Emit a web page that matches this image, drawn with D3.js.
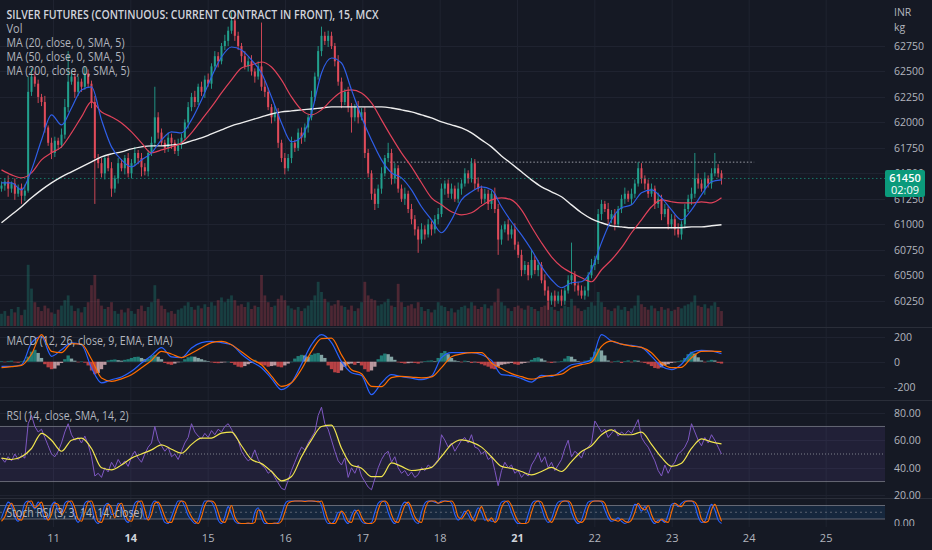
<!DOCTYPE html>
<html>
<head>
<meta charset="utf-8">
<script src="https://d3js.org/d3.v7.min.js"></script>
<style>
html, body { margin: 0; padding: 0; background: #151924; overflow: hidden; }
text { font-family: "Open Sans", "Noto Sans", sans-serif; }
</style>
</head>
<body>
<div id="chart"></div>
<script>
// ---- data (15 min silver, aggregated to ~3 bars per 10px) ----
const firstOpen = 61350
const closes = [
61380,61420,61350,61400,61300,61360,61280,61330,
62300,62450,62380,62250,62200,
61950,61800,61700,61820,61780,
61880,62150,62400,
62450,62300,62400,62350,62480,
62380,62200,61650,61600,61500,
61650,61550,61350,61450,61600,61550,61650,61500,
61600,61700,61650,61560,61520,
61700,61800,62050,61900,61800,
61750,61850,61800,61720,61780,61850,
62000,62150,62250,62200,62350,62300,
62420,62380,62550,62650,62600,62750,62800,62900,
63000,62850,62750,62650,62550,62600,62500,
62450,62550,62350,62300,62150,62050,62100,61800,61650,61550,61650,61800,
61750,61900,61850,61950,62050,
62250,62450,62700,62850,62800,
62850,62750,62600,62400,62200,62300,
62150,62050,62150,62050,
62100,61700,61500,61300,61200,
61350,61500,61650,61700,61450,61550,
61350,61250,61300,61150,61050,60950,60850,60950,
60900,61000,60950,61050,
61100,61350,61400,61300,61350,
61250,61350,61400,61500,61450,61600,61400,61350,
61250,61300,61200,61300,61150,60850,
60950,61000,60900,60950,60800,60700,60550,60600,60500,
60650,60550,60600,60450,60350,
60250,60300,60250,60300,60250,
60350,60450,60500,60400,
60350,60300,60350,60500,
60600,60650,61100,61200,61150,
61050,61100,61000,61150,61250,61300,61250,61300,61400,61550,61450,61400,
61300,61350,61200,61250,61100,61150,61000,61050,
60950,60900,61000,
61150,61250,61300,61450,61400,
61350,61450,61400,61500,61550,61500,61450]

// wick lengths above / below the body
const wickHi = [
40,30,60,20,50,30,40,60,150,80, 50,40,30,60,20,50,40,30,60,80,
300,60,40,50,30,70,40,30,60,40, 50,30,40,60,30,50,40,30,50,40,
60,30,50,40,30,60,300,50,40,30, 50,40,30,60,40,30,50,40,60,30,
50,40,60,30,50,40,30,60,40,80, 60,40,30,50,40,60,30,50,430,60,
40,30,60,40,30,50,40,60,30,40, 50,40,30,60,40,50,90,40,50,40,
30,60,40,30,50,40,30,60,40,50, 40,30,50,40,60,30,100,40,50,30,
40,60,30,50,40,30,60,40,50,30, 40,60,50,30,40,50,30,60,40,50,
30,50,40,60,30,50,40,30,60,50, 40,30,50,40,60,30,50,40,30,100,
40,50,30,60,40,30,50,40,60,30, 50,320,40,30,50,40,30,60,40,50,
40,30,60,40,50,30,40,60,30,50, 40,60,50,30,40,50,30,60,40,50,
30,50,40,60,30,50,40,60,250,50, 40,60,30,50,150,40,30]
const wickLo = [
30,50,80,40,60,30,80,50,20,40, 30,60,40,50,30,60,40,50,30,40,
50,30,60,40,50,30,40,60,450,50, 40,60,30,80,40,50,30,60,40,50,
30,60,90,40,50,30,40,60,30,50, 40,60,30,50,40,30,60,40,50,30,
40,60,30,50,40,60,30,40,50,30, 50,40,60,30,50,40,60,30,40,50,
30,60,40,50,40,60,30,50,40,30, 60,40,50,30,40,30,50,40,60,30,
50,40,60,30,50,150,40,60,30,50, 40,60,60,40,50,30,40,60,50,40,
30,60,40,50,60,130,40,50,30,60, 40,50,30,60,40,50,30,40,60,30,
50,40,60,30,50,40,60,50,40,150, 50,30,60,40,50,30,60,40,50,30,
40,60,30,50,90,40,60,30,50,40, 30,40,60,50,30,40,60,30,50,40,
60,30,50,40,60,30,40,50,30,60, 40,30,50,60,40,30,50,40,60,30,
50,40,60,30,50,40,30,60,40,50, 30,60,40,50,30,40,60]

const volumes = [
18,22,15,25,20,28,16,24,90,55, 35,28,22,30,26,20,18,24,30,38,
45,30,22,26,20,28,35,60,75,40, 30,25,28,35,22,18,24,20,26,22,
18,25,30,22,28,35,60,40,30,25, 20,22,18,24,26,30,35,28,24,30,
26,32,28,35,30,38,42,35,40,45, 38,30,32,28,35,25,30,28,75,45,
35,28,30,40,45,38,30,26,24,28, 22,26,30,38,45,65,50,40,35,30,
32,38,30,28,24,30,22,26,35,65, 45,40,38,30,32,35,40,30,28,62,
35,28,30,32,26,35,28,22,25,20, 24,35,30,28,22,26,20,24,28,30,
26,35,30,25,28,32,26,30,35,55, 35,30,26,22,28,30,26,24,30,28,
25,22,28,30,35,28,24,22,26,30, 28,40,30,26,22,24,28,35,30,50,
35,28,24,22,26,30,24,28,22,26, 30,45,32,28,24,30,26,22,28,24,
26,22,24,28,26,30,32,35,45,30, 28,32,26,30,35,28,22]

// moving averages, one value every 3 bars (every 10px)
const ma20 = [61407,61407,61338,61534,61828,62074,61976,62142,62319,62348,
62025,61760,61632,61564,61632,61701,61828,61907,61897,62025,
62221,62446,62642,62740,62711,62613,62485,62250,61995,61809,
61858,62093,62485,62632,62583,62319,62054,61828,61632,61505,
61456,61338,61172,61044,60917,61044,61240,61319,61368,61338,
61172,61025,60897,60750,60584,60456,60377,60426,60436,60554,
60820,61044,61162,61191,61310,61338,61260,61142,61044,61142,
61289,61417,61436]
const ma50 = [61534,61485,61456,61505,61632,61701,61760,61897,62054,62201,
62103,62054,61995,61907,61799,61701,61730,61760,61799,61897,
62025,62152,62289,62417,62534,62564,62593,62544,62417,62250,
62123,62074,62123,62221,62299,62319,62289,62191,62025,61858,
61701,61564,61408,61260,61191,61123,61093,61113,61181,61240,
61260,61240,61142,60976,60819,60681,60583,60524,60475,60436,
60554,60652,60770,60917,61044,61172,61240,61221,61211,61211,
61221,61211,61260]
const ma200 = [61015,61093,61172,61260,61338,61407,61466,61515,61564,61613,
61662,61691,61711,61740,61760,61770,61770,61779,61789,61819,
61848,61887,61926,61966,61995,62025,62054,62083,62103,62113,
62123,62132,62142,62152,62152,62152,62152,62152,62152,62142,
62123,62103,62074,62044,62005,61976,61946,61897,61828,61760,
61671,61594,61515,61436,61368,61319,61270,61191,61113,61054,
61015,60985,60975,60966,60966,60966,60966,60966,60966,60975,
60975,60985,60995]

// MACD (12, 26, 9): lines every 3 bars, histogram per bar
const macdLine = [-37,-37,-24,150,200,43,96,150,136,-50,
-170,-144,-122,-77,-11,50,112,38,32,110,
152,163,152,136,60,0,-48,-135,-224,-168,
-20,136,216,152,0,-88,-110,-264,-170,-104,
-120,-132,-144,-115,32,72,72,72,56,10,
-104,-112,-135,-163,-110,-117,-75,-24,-11,16,
216,165,140,130,115,43,-37,-64,-20,72,
90,85,64]
const signalLine = [-48,-40,-30,60,216,83,72,145,140,20,
-130,-157,-137,-104,-48,10,83,62,32,68,
112,152,163,136,80,20,-24,-115,-197,-168,
-60,83,185,189,55,-64,-96,-197,-200,-128,
-118,-123,-130,-122,-48,40,62,72,72,-10,
-55,-95,-120,-140,-123,-110,-100,-48,-24,-5,
123,165,140,125,114,72,-11,-48,-45,32,
83,85,80]
const macdHist = [
5,-4,6,8,-5,-8,4,10, 40,80,95,70,30, -20,-45,-60,-55,-30, -10,20,50,
25,8,-5,4,-8, -30,-70,-100,-90,-60, -25,10,15,18,12,8,15,20,
30,38,40,30,20, 25,45,55,40,20, -10,-20,-25,-15,-5,0, 20,35,42,40,30,20,
10,5,-5,-10,-12,-8,-5,0, -10,-25,-40,-45,-35,-20,-10, 15,
-10,-25,-30,-40,-35,-30,-40,-45,-30,-15,0, 25,45,55,50,40, 55,65,70,55,30,
-30,-60,-85,-90,-70,-40, -20,-15,-25,-10, -30,-60,-80,-70,-40, 20,50,65,60,40,15,
-5,-10,-15,-12,-8,-10,-15,-5, 5,8,10,5, 30,70,85,60,30, 10,5,-5,8,5,-10,-5,-10,
-20,-30,-40,-55,-60,-40, -25,-20,-15,-10,-20,-25,-15,-10,-5, 15,30,35,25,10,
-5,-10,-5,0,5, 25,45,40,20, 5,-5,8,10, 35,80,105,90,50,
10,-5,5,8,-10,5,10,-5,12,8,-5,-10, -20,-35,-50,-55,-45,-30,-20,-10,
-5,5,10, 30,60,80,65,35, 10,-5,8,15,10,-10,-15]

// RSI (14) per bar, and its SMA every 3 bars
const rsi = [
47,44,48,45,50,46,49,47, 72,78,70,66,68, 62,56,50,48,52, 58,66,72,
64,60,62,58,63, 57,48,34,36,33, 40,37,44,40,46,42,45,41,
48,52,47,44,50, 55,58,70,60,56, 52,55,48,50,46,52, 58,62,72,66,63,61,
65,62,67,64,68,66,70,72, 68,63,60,52,48,45,47,
53,46,42,40,36,38,33,29,25,24,31,38, 44,50,55,53,58, 62,66,78,84,72,
68,60,52,45,42,47, 33,40,36,42, 34,30,26,24,32, 40,46,50,52,44,48,
40,36,38,34,37,33,35,40, 38,42,40,43, 46,64,60,55,58, 52,56,60,62,58,64,55,54,
50,52,46,48,38,27, 38,44,40,42,36,38,33,36,34, 42,46,51,44,48,
40,44,38,42,46, 54,60,48,52, 50,47,53,55, 58,74,70,66,68,
62,65,68,63,66,64,67,65,70,75,62,58, 55,50,45,38,34,42,36,41,
44,50,52, 55,60,72,66,60, 56,62,58,64,60,55,50]
const rsiMa = [47,46,48,54,65,60,52,60,61.5,54,
40,38.5,42,47,50,53,56.7,53.5,50.6,57,
61.5,61.5,65.2,65.9,56,46,43,37.3,30.5,33.6,
48,60.3,70,71,54.2,42,39.7,33.5,33.6,43.5,
41,38,38.8,40.3,48.2,57,60.3,58.6,55,48,
41,39.5,37.3,34.8,37.3,40.3,37.3,44.5,51.8,56,
64,67.5,64,64,65.9,57,47.5,41,43.3,54,
61,58.8,57.4]

// Stoch RSI (3, 3, 14, 14) per bar
const stochK = [
25,65,95,80,30, 10,40,90, 100,85,65,95,70, 20,25,80, 95,55,45, 90,100,85,30,
5,35,90, 100,80,15, 0,30,80, 90,40, 45, 90,70,20, 5,40,90, 100,80,20, 25,80,
100,85,40, 5,0,30, 70,100, 100,75,35, 15,0,15, 65,100,100, 95,65,15, 0,30,75, 45,
10,0,0,0,0,0,50, 70,25,0, 0,0,0,5,40, 85,
100,100,100,100,100,100,100,100,98,100,80, 25,0,0, 15,50, 50,15,0, 35,60,40, 10,0,
0,5,50, 90,100,95,50, 15,0, 30,75,95, 85,40,10,0, 50,90,
100,100,95,90,100,100,100,90,40, 15,30,55, 40,15, 35,70, 50,15, 20,10,10, 60,95,100,
90,50,15,0, 0,0,40, 85,100,100,70,25, 5,20, 65,95,100, 100,95,50,15, 0,15,60,
95,100,100,100,95,60,25, 10,15,25,10,0,10,45, 85,80,55,75, 50,15,0, 15,15,5,40,
85,90,75, 90,100,100,100,80,30, 5,10,50, 85,60,15,0]
const stochD = [
10,30,70,90,60, 20,15,50, 95,100,70,80,95, 50,15,40, 90,85,40, 60,95,100,70,
20,10,50, 95,100,60, 10,5,40, 85,70, 25, 75,90,50, 15,10,50, 95,100,60, 15,40,
90,95,70, 30,5,5, 40,80, 100,95,60, 30,10,0, 30,80,100, 100,90,50, 10,5,40, 80,
30,5,0,0,2,0,5, 60,55,15, 0,0,2,0,10, 50,
90,98,100,100,100,98,100,100,100,96,100, 60,15,0, 0,25, 55,40,10, 5,45,60, 30,5,
0,0,10, 60,95,100,85, 40,10, 5,40,80, 95,70,30,10, 5,60,
95,100,100,90,95,100,98,100,80, 30,20,40, 60,30, 10,45, 75,40, 10,25,5, 20,70,95,
100,80,40,10, 0,0,5, 50,90,100,95,60, 20,5, 30,70,95, 100,100,85,40, 10,5,20,
70,95,100,100,100,90,50, 20,15,10,20,10,5,15, 50,90,70,60, 80,40,10, 5,20,10,5,
50,90,80, 75,95,100,100,95,70, 20,5,10, 60,85,50,10]

// axes
const dayLabels = ["11","14","15","16","17","18","21","22","23","24","25"]
const dayIdx = [15.6,38.8,62.0,85.2,108.4,131.6,154.8,178.0,201.2,224.3,247.4]
const boldDays = ["14","21"]
const priceTicks = [60250,60500,60750,61000,61250,61500,61750,62000,62250,62500,62750]
const macdTicks = [-200,0,200]
const rsiTicks = [20,40,60,80]
const stochTicks = [0]
const lastPrice = 61450, countdown = "02:09"
const levelPrice = 61610, levelFrom = 116.5, levelTo = 225.8

// ---- layout ----
const W = 932, H = 550, plotR = 885, axisX = 894
const bg = "#151924", grid = "#1f2330", sep = "#2a2e39", txt = "#b2b5be"
const up = "#22a08d", down = "#e04b5a"

const svg = d3.select("#chart").append("svg").attr("width", W).attr("height", H)
svg.append("rect").attr("width", W).attr("height", H).attr("fill", bg)

const panes = { price: [0, 327], macd: [328, 400], rsi: [401, 498], stoch: [499, 527] }
const defs = svg.append("defs")
for (const k in panes) {
  defs.append("clipPath").attr("id", "clip_" + k).append("rect")
    .attr("x", 0).attr("y", panes[k][0]).attr("width", plotR).attr("height", panes[k][1] - panes[k][0])
}
defs.append("clipPath").attr("id", "clip_axisS").append("rect").attr("x", 885).attr("y", 499).attr("width", 47).attr("height", 27)

const x = d3.scaleLinear().domain([0, 216]).range([1.5, 721.5])
const xs = (d, k) => x(k * 3)   // line samples every 3 bars
const yP = d3.scaleLinear().domain([60250, 62750]).range([300.7, 46])
const yV = d3.scaleLinear().domain([0, 100]).range([326, 258])
const yM = d3.scaleLinear().domain([-200, 200]).range([386.7, 336.7])
const yR = d3.scaleLinear().domain([20, 80]).range([495.3, 412.7])
const yS = d3.scaleLinear().domain([0, 100]).range([523.5, 501])

// grid
const gGrid = svg.append("g")
gGrid.selectAll("line.v").data(dayIdx).join("line")
  .attr("x1", d => x(d)).attr("x2", d => x(d)).attr("y1", 0).attr("y2", 527)
  .attr("stroke", grid).attr("stroke-width", 1)
function hgrid(ticks, sc) {
  gGrid.selectAll(null).data(ticks).join("line")
    .attr("x1", 0).attr("x2", plotR).attr("y1", d => Math.round(sc(d)) + 0.5).attr("y2", d => Math.round(sc(d)) + 0.5)
    .attr("stroke", grid)
}
hgrid(priceTicks, yP); hgrid(macdTicks, yM); hgrid(rsiTicks, yR)

// pane separators
svg.selectAll("line.sep").data([327.5, 400.5, 498.5]).join("line")
  .attr("x1", 0).attr("x2", W).attr("y1", d => d).attr("y2", d => d)
  .attr("stroke", sep).attr("stroke-width", 1)

// ---- price pane ----
const gP = svg.append("g").attr("clip-path", "url(#clip_price)")
const opens = closes.map((c, i) => i === 0 ? firstOpen : closes[i - 1])

// volume
gP.selectAll("rect.vol").data(volumes).join("rect")
  .attr("x", (d, i) => x(i) - 1.4).attr("width", 2.8)
  .attr("y", d => yV(d)).attr("height", d => yV(0) - yV(d))
  .attr("fill", (d, i) => closes[i] >= opens[i] ? up : down).attr("opacity", 0.28)

// level lines
gP.append("line").attr("x1", x(levelFrom)).attr("x2", x(levelTo))
  .attr("y1", yP(levelPrice)).attr("y2", yP(levelPrice))
  .attr("stroke", "#9a9ca5").attr("stroke-dasharray", "1.5,2").attr("stroke-width", 1)
svg.append("line").attr("x1", 0).attr("x2", plotR)
  .attr("y1", yP(lastPrice)).attr("y2", yP(lastPrice))
  .attr("stroke", "#16a085").attr("stroke-dasharray", "1.5,2.5").attr("opacity", 0.7)

// candles
gP.selectAll("line.wick").data(closes).join("line")
  .attr("x1", (d, i) => x(i)).attr("x2", (d, i) => x(i))
  .attr("y1", (d, i) => yP(Math.max(d, opens[i]) + wickHi[i]))
  .attr("y2", (d, i) => yP(Math.min(d, opens[i]) - wickLo[i]))
  .attr("stroke", (d, i) => d >= opens[i] ? up : down).attr("stroke-width", 0.9)
gP.selectAll("rect.body").data(closes).join("rect")
  .attr("x", (d, i) => x(i) - 1).attr("width", 2)
  .attr("y", (d, i) => yP(Math.max(d, opens[i])))
  .attr("height", (d, i) => Math.max(1, Math.abs(yP(d) - yP(opens[i]))))
  .attr("fill", (d, i) => d >= opens[i] ? up : down)

// moving averages
const lineS = d3.line().x(xs).y(d => yP(d)).curve(d3.curveMonotoneX)
gP.append("path").attr("d", lineS(ma200)).attr("fill", "none").attr("stroke", "#eeeeee").attr("stroke-width", 1.4)
gP.append("path").attr("d", lineS(ma50)).attr("fill", "none").attr("stroke", "#e0425a").attr("stroke-width", 1.2)
gP.append("path").attr("d", lineS(ma20)).attr("fill", "none").attr("stroke", "#2f5fe8").attr("stroke-width", 1.2)

// ---- MACD pane ----
const gM = svg.append("g").attr("clip-path", "url(#clip_macd)")
gM.selectAll("rect.h").data(macdHist).join("rect")
  .attr("x", (d, i) => x(i) - 1.67).attr("width", 3.34)
  .attr("y", d => Math.min(yM(d), yM(0))).attr("height", d => Math.max(0.5, Math.abs(yM(d) - yM(0))))
  .attr("fill", (d, i) => {
    const prev = i > 0 ? macdHist[i - 1] : d
    if (d >= 0) return d >= prev ? "#26a69a" : "#b2dfdb"
    return d <= prev ? "#ff5252" : "#ffcdd2"
  }).attr("opacity", 0.7)
const lineM = d3.line().x(xs).y(d => yM(d)).curve(d3.curveMonotoneX)
gM.append("path").attr("d", lineM(macdLine)).attr("fill", "none").attr("stroke", "#2962ff").attr("stroke-width", 1.2)
gM.append("path").attr("d", lineM(signalLine)).attr("fill", "none").attr("stroke", "#ff6d00").attr("stroke-width", 1.2)

// ---- RSI pane ----
const gR = svg.append("g").attr("clip-path", "url(#clip_rsi)")
gR.append("rect").attr("x", 0).attr("width", plotR).attr("y", yR(70)).attr("height", yR(30) - yR(70))
  .attr("fill", "rgba(126,87,194,0.12)")
gR.selectAll("line.band").data([70, 30]).join("line")
  .attr("x1", 0).attr("x2", plotR).attr("y1", d => yR(d)).attr("y2", d => yR(d))
  .attr("stroke", "#787b86").attr("stroke-width", 1).attr("opacity", 0.8)
gR.append("line").attr("x1", 0).attr("x2", plotR).attr("y1", yR(50)).attr("y2", yR(50))
  .attr("stroke", "#9598a1").attr("stroke-dasharray", "1,2").attr("opacity", 0.8)
gR.append("path").attr("d", d3.line().x((d, i) => x(i)).y(d => yR(d))(rsi))
  .attr("fill", "none").attr("stroke", "#7e57c2").attr("stroke-width", 1)
gR.append("path").attr("d", d3.line().x(xs).y(d => yR(d)).curve(d3.curveMonotoneX)(rsiMa))
  .attr("fill", "none").attr("stroke", "#f2e64e").attr("stroke-width", 1.2)

// ---- Stoch RSI pane ----
const gS = svg.append("g").attr("clip-path", "url(#clip_stoch)")
gS.append("rect").attr("x", 0).attr("width", plotR).attr("y", yS(80)).attr("height", yS(20) - yS(80))
  .attr("fill", "rgba(33,150,243,0.12)")
gS.selectAll("line.band").data([80, 20]).join("line")
  .attr("x1", 0).attr("x2", plotR).attr("y1", d => yS(d)).attr("y2", d => yS(d))
  .attr("stroke", "#787b86").attr("opacity", 0.8)
gS.append("line").attr("x1", 0).attr("x2", plotR).attr("y1", yS(50)).attr("y2", yS(50))
  .attr("stroke", "#787b86").attr("stroke-dasharray", "2,3").attr("opacity", 0.7)
const lineSt = d3.line().x((d, i) => x(i)).y(d => yS(d)).curve(d3.curveMonotoneX)
gS.append("path").attr("d", lineSt(stochK)).attr("fill", "none").attr("stroke", "#2962ff").attr("stroke-width", 1.1)
gS.append("path").attr("d", lineSt(stochD)).attr("fill", "none").attr("stroke", "#ff6d00").attr("stroke-width", 1.1)

// ---- axes text ----
const gA = svg.append("g").attr("font-size", 10.5).attr("fill", txt)
gA.selectAll("text.p").data(priceTicks).join("text")
  .attr("x", axisX).attr("y", d => yP(d) + 3.8).text(d => d)
gA.selectAll("text.m").data(macdTicks).join("text")
  .attr("x", axisX).attr("y", d => yM(d) + 3.8).text(d => d === 0 ? "0" : d)
gA.selectAll("text.r").data(rsiTicks).join("text")
  .attr("x", axisX).attr("y", d => yR(d) + 3.8).text(d => d.toFixed(2))
svg.append("g").attr("clip-path", "url(#clip_axisS)").selectAll("text").data(stochTicks).join("text")
  .attr("x", axisX).attr("y", d => yS(d) + 3.8).attr("font-size", 10.5).attr("fill", txt).text(d => d.toFixed(2))
gA.append("text").attr("x", axisX).attr("y", 16).text("INR")
gA.append("text").attr("x", axisX).attr("y", 31).text("kg")

// time axis
svg.append("g").selectAll("text").data(dayLabels).join("text")
  .attr("x", (d, i) => x(dayIdx[i])).attr("y", 542).attr("text-anchor", "middle")
  .attr("font-size", 11).attr("font-weight", d => boldDays.includes(d) ? 700 : 400)
  .attr("fill", d => boldDays.includes(d) ? "#d1d4dc" : txt).text(d => d)

// last price tag
const tagY = yP(lastPrice)
svg.append("rect").attr("x", 885).attr("y", tagY - 8.5).attr("width", 40).attr("height", 27).attr("rx", 2).attr("fill", "#0b9a7b")
svg.append("text").attr("x", 905).attr("y", tagY + 4).attr("text-anchor", "middle")
  .attr("font-size", 11).attr("font-weight", 600).attr("fill", "#ffffff").text(lastPrice)
svg.append("text").attr("x", 905).attr("y", tagY + 15.5).attr("text-anchor", "middle")
  .attr("font-size", 11).attr("fill", "#ffffff").text(countdown)

// ---- legends ----
const legend = [
  { t: "SILVER FUTURES (CONTINUOUS: CURRENT CONTRACT IN FRONT), 15, MCX", y: 18.5, w: 372, b: 600, c: "#d1d4dc", s: 12 },
  { t: "Vol", y: 32.5, w: 16, b: 400, c: txt, s: 12 },
  { t: "MA (20, close, 0, SMA, 5)", y: 46.8, w: 118, b: 400, c: txt, s: 12 },
  { t: "MA (50, close, 0, SMA, 5)", y: 60.8, w: 118, b: 400, c: txt, s: 12 },
  { t: "MA (200, close, 0, SMA, 5)", y: 75, w: 123, b: 400, c: txt, s: 12 },
  { t: "MACD (12, 26, close, 9, EMA, EMA)", y: 345, w: 166, b: 400, c: txt, s: 12 },
  { t: "RSI (14, close, SMA, 14, 2)", y: 420, w: 122, b: 400, c: txt, s: 12 },
  { t: "Stoch RSI (3, 3, 14, 14, close)", y: 517, w: 136, b: 400, c: txt, s: 12 }
]
svg.append("g").selectAll("text").data(legend).join("text")
  .attr("x", 6.5).attr("y", d => d.y).attr("font-size", d => d.s).attr("font-weight", d => d.b)
  .attr("fill", d => d.c).attr("textLength", d => d.w).attr("lengthAdjust", "spacingAndGlyphs")
  .text(d => d.t)
</script>
</body>
</html>
